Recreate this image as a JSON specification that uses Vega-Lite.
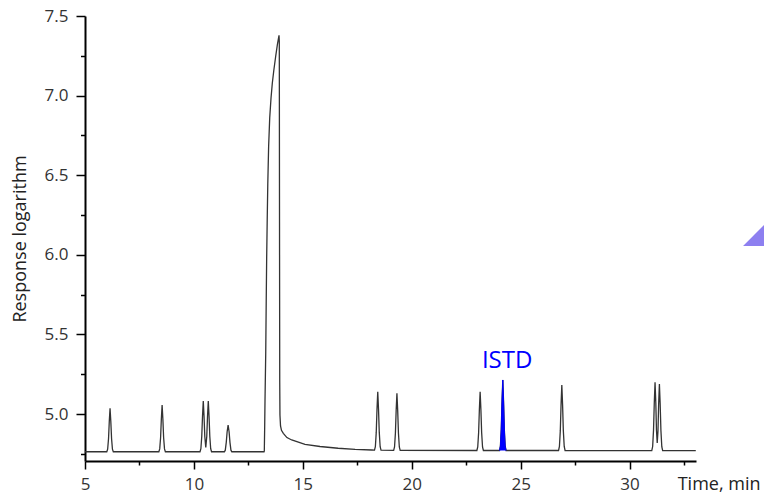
{
  "$schema": "https://vega.github.io/schema/vega-lite/v6.json",
  "width": 611,
  "height": 445,
  "autosize": "none",
  "padding": {"left": 85, "top": 16, "right": 68, "bottom": 34},
  "background": "white",
  "config": {"view": {"stroke": null}},
  "datasets": {
    "trace": [
      {"t": 5.00, "v": 4.763}, {"t": 6.00, "v": 4.763}, {"t": 6.04, "v": 4.779}, {"t": 6.08, "v": 4.845}, {"t": 6.115, "v": 4.954}, {"t": 6.15, "v": 5.036}, {"t": 6.185, "v": 4.954}, {"t": 6.22, "v": 4.845}, {"t": 6.26, "v": 4.779}, {"t": 6.30, "v": 4.763},
      {"t": 8.39, "v": 4.763}, {"t": 8.43, "v": 4.781}, {"t": 8.47, "v": 4.851}, {"t": 8.505, "v": 4.969}, {"t": 8.54, "v": 5.057}, {"t": 8.575, "v": 4.969}, {"t": 8.61, "v": 4.851}, {"t": 8.65, "v": 4.781}, {"t": 8.69, "v": 4.763},
      {"t": 10.28, "v": 4.763}, {"t": 10.32, "v": 4.782}, {"t": 10.36, "v": 4.859}, {"t": 10.395, "v": 4.986}, {"t": 10.43, "v": 5.082}, {"t": 10.465, "v": 4.986}, {"t": 10.50, "v": 4.859}, {"t": 10.545, "v": 4.790}, {"t": 10.59, "v": 4.859}, {"t": 10.625, "v": 4.986}, {"t": 10.66, "v": 5.082}, {"t": 10.695, "v": 4.986}, {"t": 10.73, "v": 4.859}, {"t": 10.77, "v": 4.782}, {"t": 10.81, "v": 4.763},
      {"t": 11.40, "v": 4.763}, {"t": 11.44, "v": 4.773}, {"t": 11.485, "v": 4.822}, {"t": 11.525, "v": 4.889}, {"t": 11.57, "v": 4.931}, {"t": 11.615, "v": 4.889}, {"t": 11.655, "v": 4.822}, {"t": 11.70, "v": 4.773}, {"t": 11.74, "v": 4.763},
      {"t": 13.22, "v": 4.763}, {"t": 13.232, "v": 4.768}, {"t": 13.250, "v": 4.930}, {"t": 13.264, "v": 5.088}, {"t": 13.297, "v": 5.383}, {"t": 13.320, "v": 5.716}, {"t": 13.340, "v": 5.980}, {"t": 13.365, "v": 6.219}, {"t": 13.392, "v": 6.450}, {"t": 13.430, "v": 6.680}, {"t": 13.480, "v": 6.860}, {"t": 13.540, "v": 6.985}, {"t": 13.600, "v": 7.079}, {"t": 13.670, "v": 7.161}, {"t": 13.756, "v": 7.249}, {"t": 13.830, "v": 7.318}, {"t": 13.907, "v": 7.379},
      {"t": 13.920, "v": 7.340}, {"t": 13.930, "v": 6.200}, {"t": 13.940, "v": 5.200}, {"t": 13.950, "v": 4.994}, {"t": 13.976, "v": 4.925}, {"t": 14.02, "v": 4.898}, {"t": 14.105, "v": 4.879}, {"t": 14.27, "v": 4.852}, {"t": 14.49, "v": 4.837}, {"t": 15.10, "v": 4.810}, {"t": 15.79, "v": 4.796}, {"t": 16.62, "v": 4.785}, {"t": 17.40, "v": 4.778}, {"t": 18.16, "v": 4.774},
      {"t": 18.29, "v": 4.773}, {"t": 18.33, "v": 4.795}, {"t": 18.37, "v": 4.883}, {"t": 18.405, "v": 5.030}, {"t": 18.44, "v": 5.140}, {"t": 18.475, "v": 5.030}, {"t": 18.51, "v": 4.883}, {"t": 18.55, "v": 4.795}, {"t": 18.59, "v": 4.773},
      {"t": 19.17, "v": 4.772}, {"t": 19.21, "v": 4.793}, {"t": 19.25, "v": 4.879}, {"t": 19.285, "v": 5.023}, {"t": 19.32, "v": 5.130}, {"t": 19.355, "v": 5.023}, {"t": 19.39, "v": 4.879}, {"t": 19.43, "v": 4.793}, {"t": 19.47, "v": 4.772},
      {"t": 22.99, "v": 4.771}, {"t": 23.03, "v": 4.793}, {"t": 23.07, "v": 4.882}, {"t": 23.105, "v": 5.029}, {"t": 23.14, "v": 5.140}, {"t": 23.175, "v": 5.029}, {"t": 23.21, "v": 4.882}, {"t": 23.25, "v": 4.793}, {"t": 23.29, "v": 4.771},
      {"t": 24.03, "v": 4.771}, {"t": 24.07, "v": 4.798}, {"t": 24.11, "v": 4.904}, {"t": 24.145, "v": 5.081}, {"t": 24.18, "v": 5.214}, {"t": 24.215, "v": 5.081}, {"t": 24.25, "v": 4.904}, {"t": 24.29, "v": 4.798}, {"t": 24.33, "v": 4.771},
      {"t": 26.74, "v": 4.771}, {"t": 26.78, "v": 4.796}, {"t": 26.82, "v": 4.894}, {"t": 26.855, "v": 5.059}, {"t": 26.89, "v": 5.182}, {"t": 26.925, "v": 5.059}, {"t": 26.96, "v": 4.894}, {"t": 27.00, "v": 4.796}, {"t": 27.04, "v": 4.771},
      {"t": 31.02, "v": 4.770}, {"t": 31.06, "v": 4.796}, {"t": 31.10, "v": 4.899}, {"t": 31.135, "v": 5.070}, {"t": 31.17, "v": 5.199}, {"t": 31.205, "v": 5.070}, {"t": 31.235, "v": 4.900}, {"t": 31.27, "v": 4.818}, {"t": 31.305, "v": 4.895}, {"t": 31.335, "v": 5.063}, {"t": 31.37, "v": 5.188}, {"t": 31.405, "v": 5.063}, {"t": 31.44, "v": 4.895}, {"t": 31.48, "v": 4.795}, {"t": 31.52, "v": 4.770},
      {"t": 33.04, "v": 4.770}
    ],
    "labels": [{"t": 24.38, "v": 5.289, "label": "ISTD"}],
    "marker": [{"t": 36.175, "v": 6.187}]
  },
  "encoding": {
    "x": {
      "field": "t", "type": "quantitative",
      "scale": {"domain": [5, 33.05], "nice": false, "zero": false},
      "axis": {
        "values": [5, 7.5, 10, 12.5, 15, 17.5, 20, 22.5, 25, 27.5, 30, 32.5],
        "labelExpr": "datum.value % 5 === 0 ? datum.label : ''",
        "tickSize": {"condition": {"test": "datum.value % 5 === 0", "value": 8}, "value": 4},
        "grid": false,
        "domainColor": "black", "domainWidth": 2,
        "tickColor": "black", "tickWidth": 1.5,
        "labelFont": "Open Sans", "labelFontSize": 17, "labelColor": "#333", "labelPadding": 7,
        "labelFlush": false, "labelOverlap": false,
        "title": "Time, min",
        "titleFont": "Open Sans", "titleFontSize": 18, "titleFontWeight": "normal", "titleColor": "#222",
        "titleX": 675, "titleY": 28, "titleAlign": "right", "titleBaseline": "alphabetic", "titleAnchor": "end"
      }
    },
    "y": {
      "field": "v", "type": "quantitative",
      "scale": {"domain": [4.705, 7.5], "nice": false, "zero": false},
      "axis": {
        "values": [4.75, 5, 5.25, 5.5, 5.75, 6, 6.25, 6.5, 6.75, 7, 7.25, 7.5],
        "labelExpr": "(datum.value * 2) % 1 === 0 ? format(datum.value, '.1f') : ''",
        "tickSize": {"condition": {"test": "(datum.value * 2) % 1 === 0", "value": 9}, "value": 4.5},
        "grid": false,
        "domainColor": "black", "domainWidth": 2,
        "tickColor": "black", "tickWidth": 1.5,
        "labelFont": "Open Sans", "labelFontSize": 17, "labelColor": "#333", "labelPadding": 8,
        "labelFlush": false, "labelOverlap": false,
        "title": "Response logarithm",
        "titleFont": "Open Sans", "titleFontSize": 18, "titleFontWeight": "normal", "titleColor": "#222",
        "titleX": -60, "titleY": 222.5, "titleBaseline": "alphabetic", "titleAlign": "center"
      }
    }
  },
  "layer": [
    {
      "data": {"name": "trace"},
      "mark": {"type": "line", "color": "#333333", "strokeWidth": 1.3, "interpolate": "linear"},
      "encoding": {}
    },
    {
      "data": {"name": "trace"},
      "transform": [{"filter": "datum.t >= 24.03 && datum.t <= 24.33"}],
      "mark": {"type": "area", "color": "#0000ff", "opacity": 1, "line": {"color": "#0000ff", "strokeWidth": 1}},
      "encoding": {"y2": {"datum": 4.771}}
    },
    {
      "data": {"name": "labels"},
      "mark": {"type": "text", "font": "Open Sans", "fontSize": 24, "color": "#0000ff", "align": "center", "baseline": "alphabetic"},
      "encoding": {"text": {"field": "label"}}
    },
    {
      "data": {"name": "marker"},
      "mark": {"type": "point", "shape": "M -1 1 L 1 -1 L 1 1 Z", "size": 1764, "filled": true, "color": "#8d7ff0", "opacity": 1, "strokeWidth": 0},
      "encoding": {}
    }
  ]
}
